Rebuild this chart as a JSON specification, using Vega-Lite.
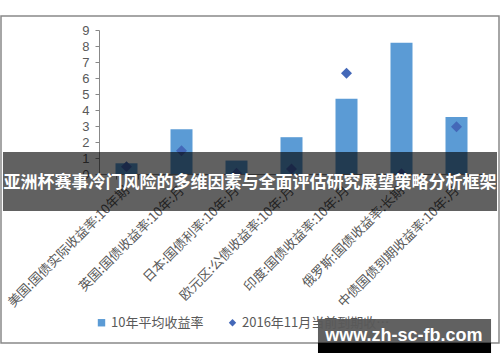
{
  "$schema": "https://vega.github.io/schema/vega-lite/v6.json",
  "width": 498,
  "height": 327,
  "autosize": {"type": "none"},
  "padding": {"left": 1, "top": 16, "right": 1, "bottom": 19},
  "background": "white",
  "config": {
    "view": {"stroke": "#898989", "strokeWidth": 1.5},
    "font": "Noto Sans CJK SC",
    "axis": {"zindex": 0, "grid": false, "title": null, "domainColor": "#888888", "tickColor": "#888888", "labelColor": "#595959"},
    "axisX": {"offset": -169, "tickSize": 5, "labelAngle": -45, "labelAlign": "right", "labelBaseline": "middle", "labelFontSize": 13, "labelPadding": 9, "labelLimit": 300, "labelOverlap": false, "tickBand": "extent"},
    "axisY": {"offset": -98, "tickSize": 4, "labelPadding": 6, "labelFontSize": 13, "labelFont": "Liberation Sans", "labelOverlap": false, "tickCount": 10, "labelFlush": false}
  },
  "layer": [
    {
      "data": {
        "values": [
          {"cat": "美国:国债实际收益率:10年期", "series": "10年平均收益率", "value": 0.67},
          {"cat": "英国:国债收益率:10年:月", "series": "10年平均收益率", "value": 2.8},
          {"cat": "日本:国债利率:10年:月", "series": "10年平均收益率", "value": 0.84},
          {"cat": "欧元区:公债收益率:10年:月", "series": "10年平均收益率", "value": 2.3},
          {"cat": "印度:国债收益率:10年:月", "series": "10年平均收益率", "value": 4.7},
          {"cat": "俄罗斯:国债收益率:长期", "series": "10年平均收益率", "value": 8.2},
          {"cat": "中债国债到期收益率:10年:月", "series": "10年平均收益率", "value": 3.56},
          {"cat": "美国:国债实际收益率:10年期", "series": "2016年11月当前到期收益率", "value": 0.46},
          {"cat": "英国:国债收益率:10年:月", "series": "2016年11月当前到期收益率", "value": 1.45},
          {"cat": "日本:国债利率:10年:月", "series": "2016年11月当前到期收益率", "value": 0.05},
          {"cat": "欧元区:公债收益率:10年:月", "series": "2016年11月当前到期收益率", "value": 0.31},
          {"cat": "印度:国债收益率:10年:月", "series": "2016年11月当前到期收益率", "value": 6.3},
          {"cat": "俄罗斯:国债收益率:长期", "series": "2016年11月当前到期收益率", "value": 0.02},
          {"cat": "中债国债到期收益率:10年:月", "series": "2016年11月当前到期收益率", "value": 2.95}
        ]
      },
      "layer": [
        {
          "transform": [{"filter": "datum.series === '10年平均收益率'"}],
          "mark": {"type": "bar"},
          "encoding": {
            "x": {"field": "cat", "type": "nominal", "sort": null,
                  "scale": {"type": "band", "range": [98, 483], "paddingInner": 0.6, "paddingOuter": 0.3}},
            "y": {"field": "value", "type": "quantitative",
                  "scale": {"domain": [0, 9], "range": [158, 14], "nice": false, "zero": false},
                  "axis": {"values": [0, 1, 2, 3, 4, 5, 6, 7, 8, 9], "title": null, "labelOverlap": false}},
            "color": {"field": "series", "type": "nominal",
                      "scale": {"domain": ["10年平均收益率", "2016年11月当前到期收益率"], "range": ["#5B9BD5", "#4468B8"]},
                      "legend": {"orient": "none", "legendX": 94, "legendY": 300, "direction": "horizontal", "title": null, "labelFontSize": 13, "labelColor": "#595959", "columnPadding": 22, "symbolSize": 55, "labelOffset": 3}}
          }
        },
        {
          "transform": [{"filter": "datum.series === '2016年11月当前到期收益率'"}],
          "mark": {"type": "point", "filled": true, "size": 120, "opacity": 1},
          "encoding": {
            "x": {"field": "cat", "type": "nominal", "sort": null},
            "y": {"field": "value", "type": "quantitative"},
            "color": {"field": "series", "type": "nominal"},
            "shape": {"field": "series", "type": "nominal",
                      "scale": {"domain": ["10年平均收益率", "2016年11月当前到期收益率"], "range": ["square", "diamond"]},
                      "legend": {"orient": "none", "legendX": 94, "legendY": 300, "direction": "horizontal", "title": null, "labelFontSize": 13, "labelColor": "#595959", "columnPadding": 22, "symbolSize": 55, "labelOffset": 3}}
          }
        }
      ]
    },
    {
      "data": {"values": [{"k": "banner"}]},
      "mark": {"type": "rect", "color": "black", "opacity": 0.62, "zindex": 1},
      "encoding": {
        "x": {"datum": 0.004, "type": "quantitative", "scale": {"domain": [0, 1]}, "axis": null},
        "x2": {"datum": 0.996},
        "y": {"datum": 1.375, "type": "quantitative", "scale": {"domain": [0, 9], "range": [158, 14], "nice": false, "zero": false}},
        "y2": {"datum": -2.3125}
      }
    },
    {
      "data": {"values": [{"label": "亚洲杯赛事冷门风险的多维因素与全面评估研究展望策略分析框架"}]},
      "mark": {"type": "text", "color": "white", "fontSize": 17, "fontWeight": "bold", "font": "Noto Sans CJK SC", "align": "center", "baseline": "middle", "zindex": 1},
      "encoding": {
        "x": {"datum": 0.5, "type": "quantitative", "scale": {"domain": [0, 1]}, "axis": null},
        "y": {"datum": -0.5625, "type": "quantitative"},
        "text": {"field": "label"}
      }
    },
    {
      "data": {"values": [{"k": "wm1"}]},
      "mark": {"type": "rect", "color": "black", "opacity": 0.62, "zindex": 1},
      "encoding": {
        "x": {"datum": 0.6365, "type": "quantitative", "scale": {"domain": [0, 1]}, "axis": null},
        "x2": {"datum": 0.984},
        "y": {"datum": -9.0625, "type": "quantitative"},
        "y2": {"datum": -10.5625}
      }
    },
    {
      "data": {"values": [{"k": "wm2"}]},
      "mark": {"type": "rect", "color": "black", "opacity": 1, "zindex": 1},
      "encoding": {
        "x": {"datum": 0.6365, "type": "quantitative", "scale": {"domain": [0, 1]}, "axis": null},
        "x2": {"datum": 0.984},
        "y": {"datum": -10.5625, "type": "quantitative"},
        "y2": {"datum": -11.1875}
      }
    },
    {
      "data": {"values": [{"label": "www.zh-sc-fb.com"}]},
      "mark": {"type": "text", "color": "white", "fontSize": 18, "fontWeight": "bold", "font": "Liberation Sans", "align": "center", "baseline": "middle", "zindex": 1},
      "encoding": {
        "x": {"datum": 0.809, "type": "quantitative", "scale": {"domain": [0, 1]}, "axis": null},
        "y": {"datum": -10.125, "type": "quantitative"},
        "text": {"field": "label"}
      }
    }
  ],
  "resolve": {"scale": {"x": "independent"}}
}
